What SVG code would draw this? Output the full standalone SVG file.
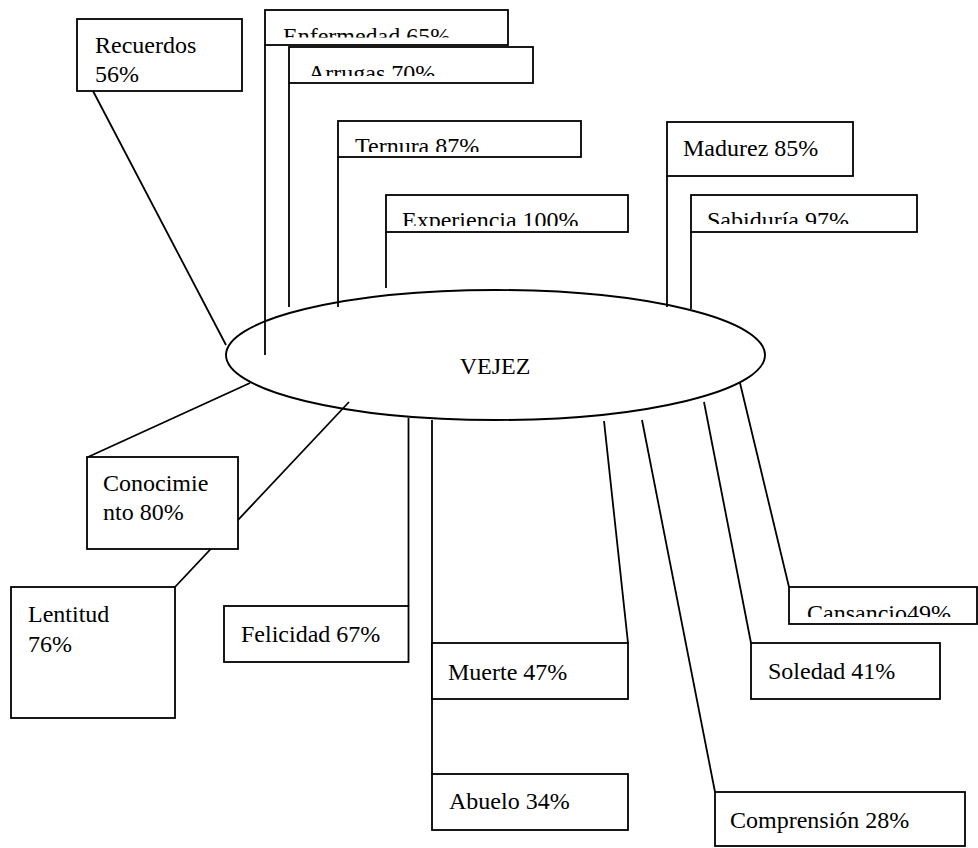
<svg xmlns="http://www.w3.org/2000/svg" width="978" height="848" viewBox="0 0 978 848">
<style>
  .box { fill: #fff; stroke: #000; stroke-width: 1.8; }
  .ln { stroke: #000; stroke-width: 1.8; fill: none; }
  .t { font-family: "Liberation Serif", "Times New Roman", serif; font-size: 24px; fill: #000; }
</style>
<defs>
  <clipPath id="cEnf"><rect x="266" y="10" width="242" height="27.5"/></clipPath>
  <clipPath id="cArr"><rect x="290" y="47" width="243" height="29"/></clipPath>
  <clipPath id="cTer"><rect x="338" y="121" width="243" height="31"/></clipPath>
  <clipPath id="cExp"><rect x="387" y="195" width="241" height="31"/></clipPath>
  <clipPath id="cSab"><rect x="692" y="195" width="225" height="29"/></clipPath>
  <clipPath id="cCan"><rect x="789" y="587" width="188" height="30"/></clipPath>
</defs>
<rect width="978" height="848" fill="#fff"/>

<g id="vejez">
  <ellipse cx="495.5" cy="355" rx="269.5" ry="65" fill="#fff" stroke="#000" stroke-width="1.9"/>
  <text class="t" x="495" y="374" text-anchor="middle">VEJEZ</text>
</g>

<g id="connectors">
  <line class="ln" x1="93" y1="91" x2="226" y2="345"/>
  <line class="ln" x1="265" y1="45" x2="265" y2="355"/>
  <line class="ln" x1="289" y1="83" x2="289" y2="307"/>
  <line class="ln" x1="338" y1="157" x2="338" y2="307"/>
  <line class="ln" x1="386" y1="232" x2="386" y2="288"/>
  <line class="ln" x1="667" y1="176" x2="667" y2="307"/>
  <line class="ln" x1="691" y1="232" x2="691" y2="309"/>
  <line class="ln" x1="88" y1="457" x2="250" y2="383"/>
  <line class="ln" x1="175" y1="587" x2="349" y2="402"/>
  <line class="ln" x1="408.5" y1="418" x2="408.5" y2="606"/>
  <line class="ln" x1="432" y1="420" x2="432" y2="774"/>
  <line class="ln" x1="604" y1="421" x2="628" y2="643"/>
  <line class="ln" x1="642" y1="420" x2="715" y2="792"/>
  <line class="ln" x1="704" y1="402" x2="751" y2="643"/>
  <line class="ln" x1="740" y1="383" x2="789" y2="587"/>
</g>

<g id="recuerdos">
  <rect class="box" x="77" y="19" width="165" height="72"/>
  <text class="t" x="95" y="53">Recuerdos</text>
  <text class="t" x="95" y="82">56%</text>
</g>
<g id="enfermedad">
  <rect class="box" x="265" y="10" width="243" height="35"/>
  <text class="t" x="283" y="44" clip-path="url(#cEnf)">Enfermedad 65%</text>
</g>
<g id="arrugas">
  <rect class="box" x="289" y="47" width="244" height="36"/>
  <text class="t" x="308" y="81" clip-path="url(#cArr)">Arrugas 70%</text>
</g>
<g id="ternura">
  <rect class="box" x="338" y="121" width="243" height="36"/>
  <text class="t" x="355" y="154" clip-path="url(#cTer)">Ternura 87%</text>
</g>
<g id="experiencia">
  <rect class="box" x="386" y="195" width="242" height="37"/>
  <text class="t" x="402" y="228" clip-path="url(#cExp)">Experiencia 100%</text>
</g>
<g id="madurez">
  <rect class="box" x="667" y="122" width="186" height="54"/>
  <text class="t" x="683" y="156">Madurez 85%</text>
</g>
<g id="sabiduria">
  <rect class="box" x="691" y="195" width="226" height="37"/>
  <text class="t" x="707" y="228" clip-path="url(#cSab)">Sabiduría 97%</text>
</g>
<g id="conocimiento">
  <rect class="box" x="87" y="457" width="151" height="92"/>
  <text class="t" x="103" y="491">Conocimie</text>
  <text class="t" x="103" y="520">nto 80%</text>
</g>
<g id="lentitud">
  <rect class="box" x="11" y="587" width="164" height="131"/>
  <text class="t" x="28" y="622">Lentitud</text>
  <text class="t" x="28" y="652">76%</text>
</g>
<g id="felicidad">
  <rect class="box" x="224" y="606" width="184.5" height="56"/>
  <text class="t" x="241" y="642">Felicidad 67%</text>
</g>
<g id="muerte">
  <rect class="box" x="432" y="643" width="196" height="56"/>
  <text class="t" x="448" y="680">Muerte 47%</text>
</g>
<g id="abuelo">
  <rect class="box" x="432" y="774" width="196" height="56"/>
  <text class="t" x="449" y="809">Abuelo 34%</text>
</g>
<g id="cansancio">
  <rect class="box" x="789" y="587" width="188" height="37"/>
  <text class="t" x="807" y="621" clip-path="url(#cCan)">Cansancio49%</text>
</g>
<g id="soledad">
  <rect class="box" x="751" y="643" width="189" height="56"/>
  <text class="t" x="768" y="679">Soledad 41%</text>
</g>
<g id="comprension">
  <rect class="box" x="715" y="792" width="250" height="54"/>
  <text class="t" x="730" y="828">Comprensión 28%</text>
</g>
</svg>
